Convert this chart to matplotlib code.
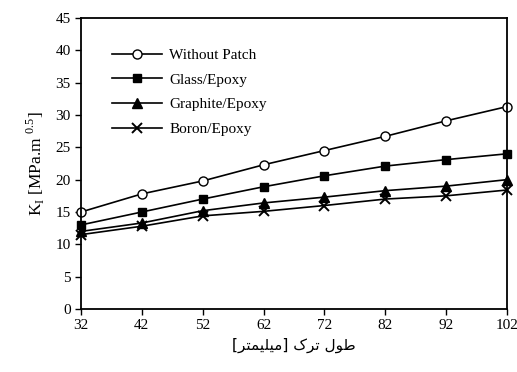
import matplotlib
matplotlib.use("Agg")
from matplotlib import pyplot as plt

crack_len = [32, 42, 52, 62, 72, 82, 92, 102]
without_patch = [15.0, 17.8, 19.8, 22.3, 24.5, 26.7, 29.1, 31.3]
glass_epoxy = [13.0, 15.0, 17.0, 18.9, 20.6, 22.1, 23.1, 24.0]
graphite_epoxy = [12.0, 13.3, 15.2, 16.4, 17.3, 18.3, 19.0, 20.0]
boron_epoxy = [11.5, 12.8, 14.4, 15.1, 16.0, 17.0, 17.5, 18.4]

# Persian x label "طول ترک [میلیمتر]", written with presentation forms in visual
# order because matplotlib does no Arabic shaping or bidi
xlabel_fa = ("[" + "\uFEAE\uFE98\uFEE4\uFEF4\uFEE0\uFEF4\uFEE3" + "]" + " "
             + "\uFB8E\uFEAE\uFE97" + " " + "\uFEDD\uFEEE\uFEC3")

plt.rcParams['font.family'] = ['Liberation Serif', 'DejaVu Sans']
plt.rcParams['mathtext.fontset'] = 'custom'
plt.rcParams['mathtext.rm'] = 'Liberation Serif'

fig = plt.figure(figsize=(5.17, 3.72), dpi=100)
ax = fig.add_axes([0.1567, 0.1694, 0.8240, 0.7822])

series = [
    ("Without Patch", without_patch, dict(marker='o', mfc='white', ms=6.5)),
    ("Glass/Epoxy", glass_epoxy, dict(marker='s', mfc='black', ms=6)),
    ("Graphite/Epoxy", graphite_epoxy, dict(marker='^', mfc='black', ms=7)),
    ("Boron/Epoxy", boron_epoxy, dict(marker='x', ms=7, mew=1.4)),
]
for name, vals, st in series:
    ax.plot(crack_len, vals, color='black', lw=1.2, mec='black',
            label=name, clip_on=False, **st)

ax.set_xlim(32, 102)
ax.set_ylim(0, 45)
ax.set_xticks(crack_len)
ax.set_yticks(range(0, 46, 5))
ax.tick_params(labelsize=11, direction='out', length=4, width=1, colors='black')
for s in ax.spines.values():
    s.set_linewidth(1.3)

ax.set_ylabel(r"K$_\mathregular{I}$ [MPa.m $^\mathregular{0.5}$]", fontsize=12.5,
              labelpad=6)
ax.set_xlabel(xlabel_fa, fontsize=11, family=['DejaVu Sans'])

ax.legend(loc='upper left', bbox_to_anchor=(0.058, 0.917), frameon=False,
          fontsize=11, handlelength=3.3, labelspacing=0.72, borderaxespad=0,
          handletextpad=0.45)

fig.savefig("out.png", dpi=100)
